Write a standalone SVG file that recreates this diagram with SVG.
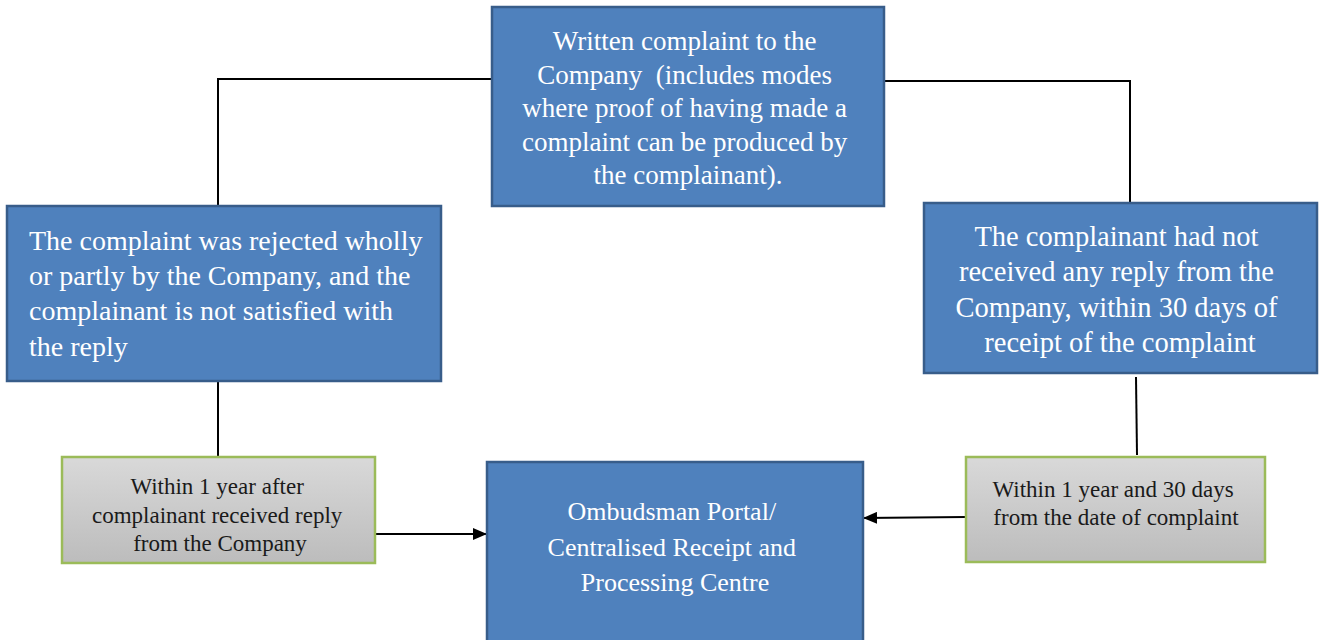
<svg xmlns="http://www.w3.org/2000/svg" width="1320" height="640" viewBox="0 0 1320 640">
<style>
.blue{fill:#4F81BD;stroke:#385D8A;stroke-width:2.5}
.gray{fill:url(#g);stroke:#9BBB59;stroke-width:2.5}
.wt{fill:#ffffff;font-family:"Liberation Serif","DejaVu Serif",serif}
.bt{fill:#1a1a1a;font-family:"Liberation Serif","DejaVu Serif",serif;text-anchor:middle;font-size:23px}
.ln{stroke:#000;stroke-width:2;fill:none}
</style>
<defs>
<linearGradient id="g" x1="0" y1="0" x2="0" y2="1">
<stop offset="0" stop-color="#d9d9d9"/>
<stop offset="1" stop-color="#bcbcbc"/>
</linearGradient>
<marker id="ah" markerWidth="14" markerHeight="12" refX="14" refY="6" orient="auto" markerUnits="userSpaceOnUse">
<path d="M0,0 L14,6 L0,12 Z" fill="#000"/>
</marker>
</defs>
<rect width="1320" height="640" fill="#fff"/>
<g id="connectors">
<polyline class="ln" points="492,79 218,79 218,209"/>
<polyline class="ln" points="884,81 1130,81 1130,203"/>
<line class="ln" x1="218" y1="381" x2="218" y2="457"/>
<line class="ln" x1="1136" y1="377" x2="1137" y2="455"/>
<line class="ln" x1="375" y1="534" x2="487" y2="534" marker-end="url(#ah)"/>
<line class="ln" x1="966" y1="517" x2="863" y2="518" marker-end="url(#ah)"/>
</g>
<g id="top">
<rect class="blue" x="492" y="7" width="392" height="199"/>
<text class="wt" font-size="27" text-anchor="middle">
<tspan x="688" y="50">Written complaint to the</tspan>
<tspan x="688" y="84">Company &#160;(includes modes</tspan>
<tspan x="688" y="117">where proof of having made a</tspan>
<tspan x="688" y="151">complaint can be produced by</tspan>
<tspan x="688" y="184">the complainant).</tspan>
</text>
</g>
<g id="rejected">
<rect class="blue" x="7" y="206" width="434" height="175"/>
<text class="wt" font-size="28">
<tspan x="29" y="250">The complaint was rejected wholly</tspan>
<tspan x="29" y="285">or partly by the Company, and the</tspan>
<tspan x="29" y="320">complainant is not satisfied with</tspan>
<tspan x="29" y="356">the reply</tspan>
</text>
</g>
<g id="noreply">
<rect class="blue" x="924" y="203" width="393" height="170"/>
<text class="wt" font-size="28.5" text-anchor="middle">
<tspan x="1120" y="246">The complainant had not</tspan>
<tspan x="1120" y="281">received any reply from the</tspan>
<tspan x="1120" y="317">Company, within 30 days of</tspan>
<tspan x="1120" y="352">receipt of the complaint</tspan>
</text>
</g>
<g id="ombudsman">
<rect class="blue" x="487" y="462" width="376" height="190"/>
<text class="wt" font-size="26" text-anchor="middle">
<tspan x="675" y="520">Ombudsman Portal/</tspan>
<tspan x="675" y="556">Centralised Receipt and</tspan>
<tspan x="675" y="591">Processing Centre</tspan>
</text>
</g>
<g id="within1year">
<rect class="gray" x="62" y="457" width="313" height="106"/>
<text class="bt">
<tspan x="220" y="494">Within 1 year after</tspan>
<tspan x="220" y="523">complainant received reply</tspan>
<tspan x="220" y="551">from the Company</tspan>
</text>
</g>
<g id="within1year30">
<rect class="gray" x="966" y="457" width="299" height="105"/>
<text class="bt">
<tspan x="1116" y="497">Within 1 year and 30 days</tspan>
<tspan x="1116" y="525">from the date of complaint</tspan>
</text>
</g>
</svg>
